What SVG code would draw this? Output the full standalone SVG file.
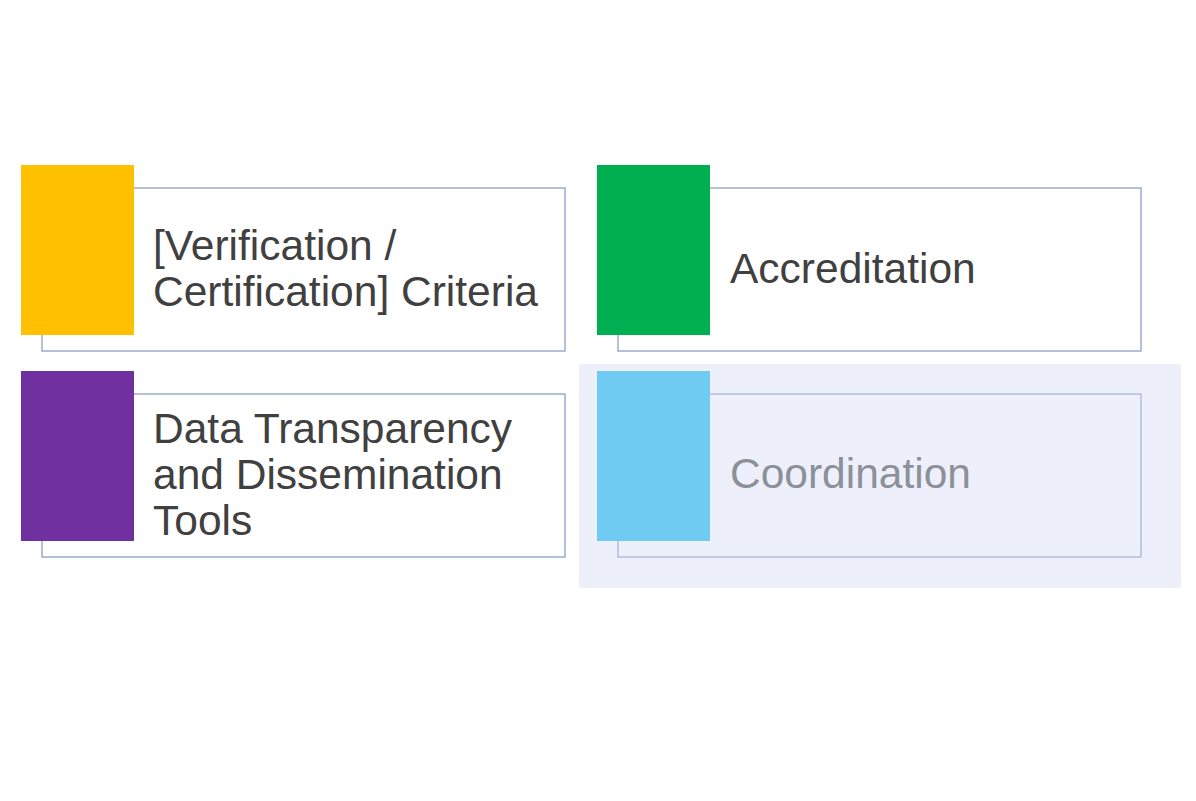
<svg xmlns="http://www.w3.org/2000/svg" width="1196" height="801" viewBox="0 0 1196 801">
  <style>
    .frame { fill: #ffffff; stroke: #8a9fc6; stroke-width: 1.3; }
    .frame-dim { fill: none; stroke: #aab6d8; stroke-width: 1.3; }
    .label { font-family: "Liberation Sans", Arial, sans-serif; font-size: 42.5px; fill: #404040; }
    .label-dim { font-family: "Liberation Sans", Arial, sans-serif; font-size: 42.5px; fill: #8b9099; }
  </style>
  <rect width="1196" height="801" fill="#ffffff"/>

  <!-- highlighted cell -->
  <rect x="579" y="364" width="602" height="224" fill="#edf0fa"/>

  <g id="node-criteria">
    <rect class="frame" x="42" y="188" width="523" height="163"/>
    <rect x="21" y="165" width="113" height="170" fill="#ffc000"/>
    <text class="label" x="153" y="260">[Verification /</text>
    <text class="label" x="153" y="306">Certification] Criteria</text>
  </g>

  <g id="node-accreditation">
    <rect class="frame" x="618" y="188" width="523" height="163"/>
    <rect x="597" y="165" width="113" height="170" fill="#00b050"/>
    <text class="label" x="730" y="283">Accreditation</text>
  </g>

  <g id="node-data">
    <rect class="frame" x="42" y="394" width="523" height="163"/>
    <rect x="21" y="371" width="113" height="170" fill="#7030a0"/>
    <text class="label" x="153" y="443">Data Transparency</text>
    <text class="label" x="153" y="489">and Dissemination</text>
    <text class="label" x="153" y="535">Tools</text>
  </g>

  <g id="node-coordination">
    <rect class="frame-dim" x="618" y="394" width="523" height="163"/>
    <rect x="597" y="371" width="113" height="170" fill="#6fcbf2"/>
    <text class="label-dim" x="730" y="488">Coordination</text>
  </g>

  <g id="connectors"/>
</svg>
